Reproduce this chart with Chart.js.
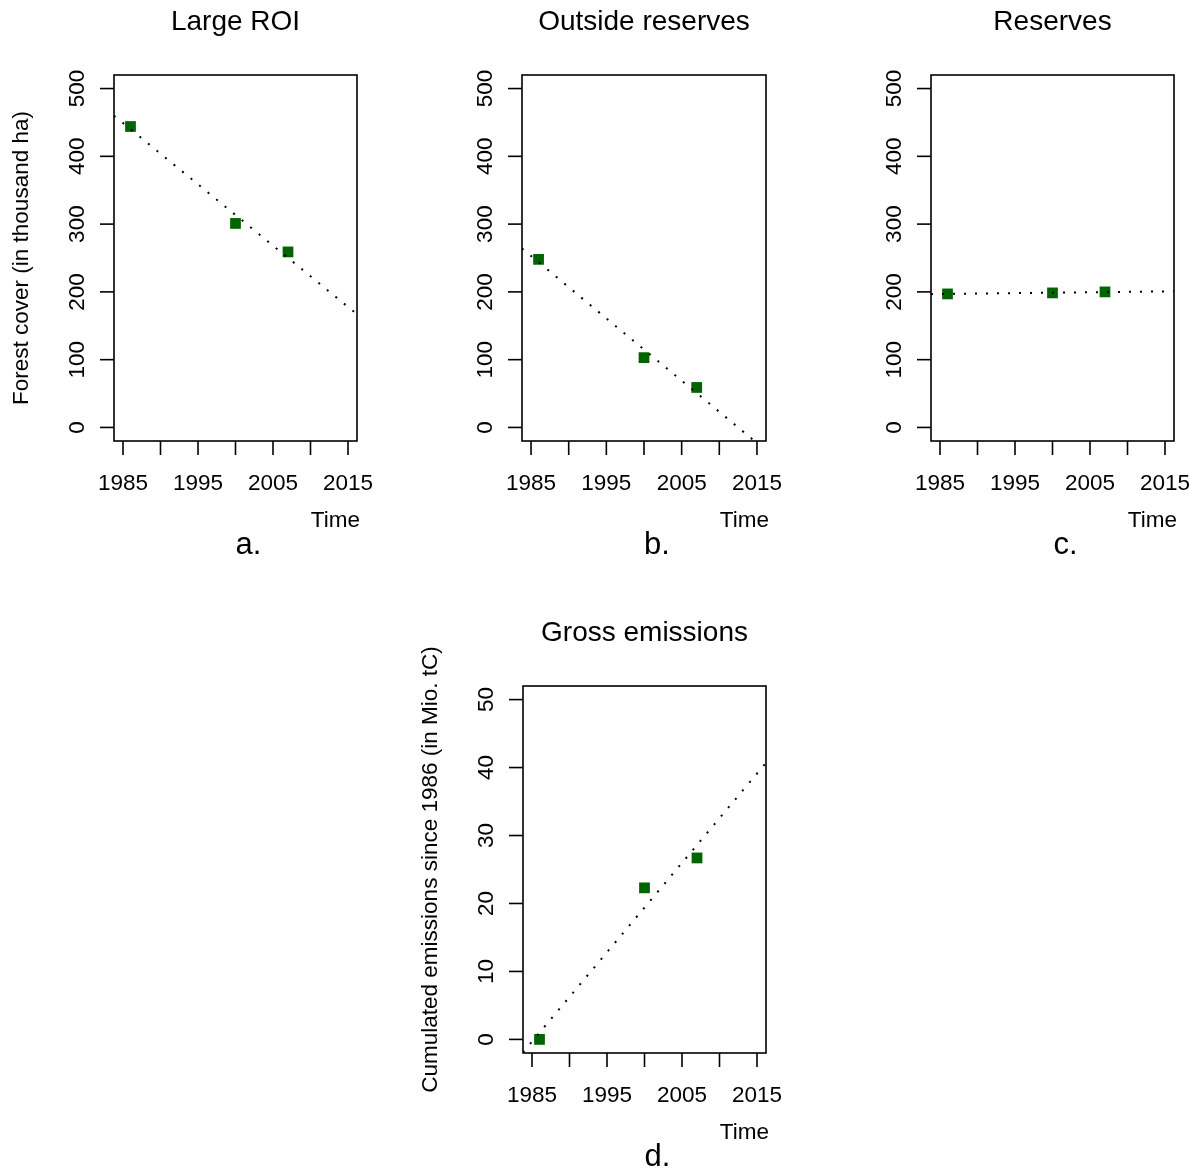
<!DOCTYPE html>
<html>
<head>
<meta charset="utf-8">
<script src="https://cdn.jsdelivr.net/npm/chart.js"></script>
<style>
  html, body { margin: 0; padding: 0; background: #fff; overflow: hidden; }
  #page { position: relative; width: 1201px; height: 1173px; }
  canvas { position: absolute; }
</style>
</head>
<body>
<div id="page">
  <canvas id="pa" width="384" height="560"></canvas>
  <canvas id="pb" width="384" height="560"></canvas>
  <canvas id="pc" width="384" height="560"></canvas>
  <canvas id="pd" width="384" height="560"></canvas>
</div>
<script>
// ---------- data ----------
const years = [1986, 2000, 2007];
const coverLarge = [444, 301, 259];
const coverOutside = [248, 103, 59];
const coverReserves = [197, 198.5, 200];
const emissions = [0, 22.3, 26.7];

// dotted trend lines, read at the plot edges
const trendYears = [1983.8, 2016.2];
const trendLarge = [460, 167];
const trendOutside = [264, -34];
const trendReserves = [196.7, 200.9];
const trendEmissions = [-1.9, 40.7];

// axes
const xTicks = [1985, 1990, 1995, 2000, 2005, 2010, 2015];
const xTickLabels = ["1985", "", "1995", "", "2005", "", "2015"];
const coverTicks = [0, 100, 200, 300, 400, 500];
const emissionTicks = [0, 10, 20, 30, 40, 50];

const FONT = "'Liberation Sans', Arial, Helvetica, sans-serif";
const GREEN = "#006400";

// ---------- R-like axes plugin ----------
const rAxes = {
  id: "rAxes",
  afterDraw(chart, args, opts) {
    const c = chart.ctx;
    const a = chart.chartArea;
    const xs = chart.scales.x, ys = chart.scales.y;
    c.save();
    c.strokeStyle = "#000";
    c.fillStyle = "#000";
    c.lineWidth = 1.6;
    // box
    c.strokeRect(a.left, a.top, a.right - a.left, a.bottom - a.top);
    // x ticks
    c.font = "22.5px " + FONT;
    c.textAlign = "center";
    c.textBaseline = "alphabetic";
    xTicks.forEach((v, i) => {
      const px = xs.getPixelForValue(v);
      c.beginPath();
      c.moveTo(px, a.bottom);
      c.lineTo(px, a.bottom + 14);
      c.stroke();
      if (xTickLabels[i]) c.fillText(xTickLabels[i], px, a.bottom + 49);
    });
    // y ticks (rotated labels)
    opts.yTicks.forEach(v => {
      const py = ys.getPixelForValue(v);
      c.beginPath();
      c.moveTo(a.left, py);
      c.lineTo(a.left - 14, py);
      c.stroke();
      c.save();
      c.translate(a.left - 30, py);
      c.rotate(-Math.PI / 2);
      c.fillText(String(v), 0, 0);
      c.restore();
    });
    // title
    const cx = (a.left + a.right) / 2;
    c.font = "28px " + FONT;
    c.fillText(opts.title, cx, a.top - 45);
    // x label, right aligned
    c.font = "22.5px " + FONT;
    c.textAlign = "right";
    c.fillText("Time", a.right + 3, a.bottom + 86);
    // panel letter
    c.textAlign = "center";
    c.font = "31px " + FONT;
    c.fillText(opts.letter, cx + 13, a.bottom + 113);
    // y label
    if (opts.ylabel) {
      c.font = "22.5px " + FONT;
      c.save();
      c.translate(a.left - 86, (a.top + a.bottom) / 2);
      c.rotate(-Math.PI / 2);
      c.fillText(opts.ylabel, 0, 0);
      c.restore();
    }
    c.restore();
  }
};

// ---------- build one panel ----------
function panel(id, left, top, plotW, plotH, values, trend, yMin, yMax, yTicks, title, letter, ylabel) {
  const cv = document.getElementById(id);
  cv.style.left = (left - 114) + "px";
  cv.style.top = (top - 75) + "px";
  const W = cv.width, H = cv.height;
  new Chart(cv, {
    type: "scatter",
    data: {
      datasets: [
        {
          data: trendYears.map((x, i) => ({ x: x, y: trend[i] })),
          showLine: true,
          borderColor: "#000",
          borderWidth: 2,
          borderDash: [2, 9],
          pointRadius: 0,
          order: 0
        },
        {
          data: years.map((x, i) => ({ x: x, y: values[i] })),
          pointStyle: "rect",
          pointRadius: 7.6,
          backgroundColor: GREEN,
          borderColor: GREEN,
          borderWidth: 0,
          order: 1
        }
      ]
    },
    options: {
      responsive: false,
      animation: false,
      devicePixelRatio: 1,
      layout: { padding: { left: 114, top: 75, right: W - 114 - plotW, bottom: H - 75 - plotH } },
      scales: {
        x: { type: "linear", min: 1983.8, max: 2016.2, display: false },
        y: { type: "linear", min: yMin, max: yMax, display: false }
      },
      plugins: {
        legend: { display: false },
        tooltip: { enabled: false },
        rAxes: { title: title, letter: letter, ylabel: ylabel, yTicks: yTicks }
      }
    },
    plugins: [rAxes]
  });
}

panel("pa", 114, 75, 243, 366, coverLarge, trendLarge, -20, 520, coverTicks,
      "Large ROI", "a.", "Forest cover (in thousand ha)");
panel("pb", 522, 75, 244, 366, coverOutside, trendOutside, -20, 520, coverTicks,
      "Outside reserves", "b.", null);
panel("pc", 931, 75, 243, 366, coverReserves, trendReserves, -20, 520, coverTicks,
      "Reserves", "c.", null);
panel("pd", 523, 686, 243, 367, emissions, trendEmissions, -2, 52, emissionTicks,
      "Gross emissions", "d.", "Cumulated emissions since 1986 (in Mio. tC)");
</script>
</body>
</html>
